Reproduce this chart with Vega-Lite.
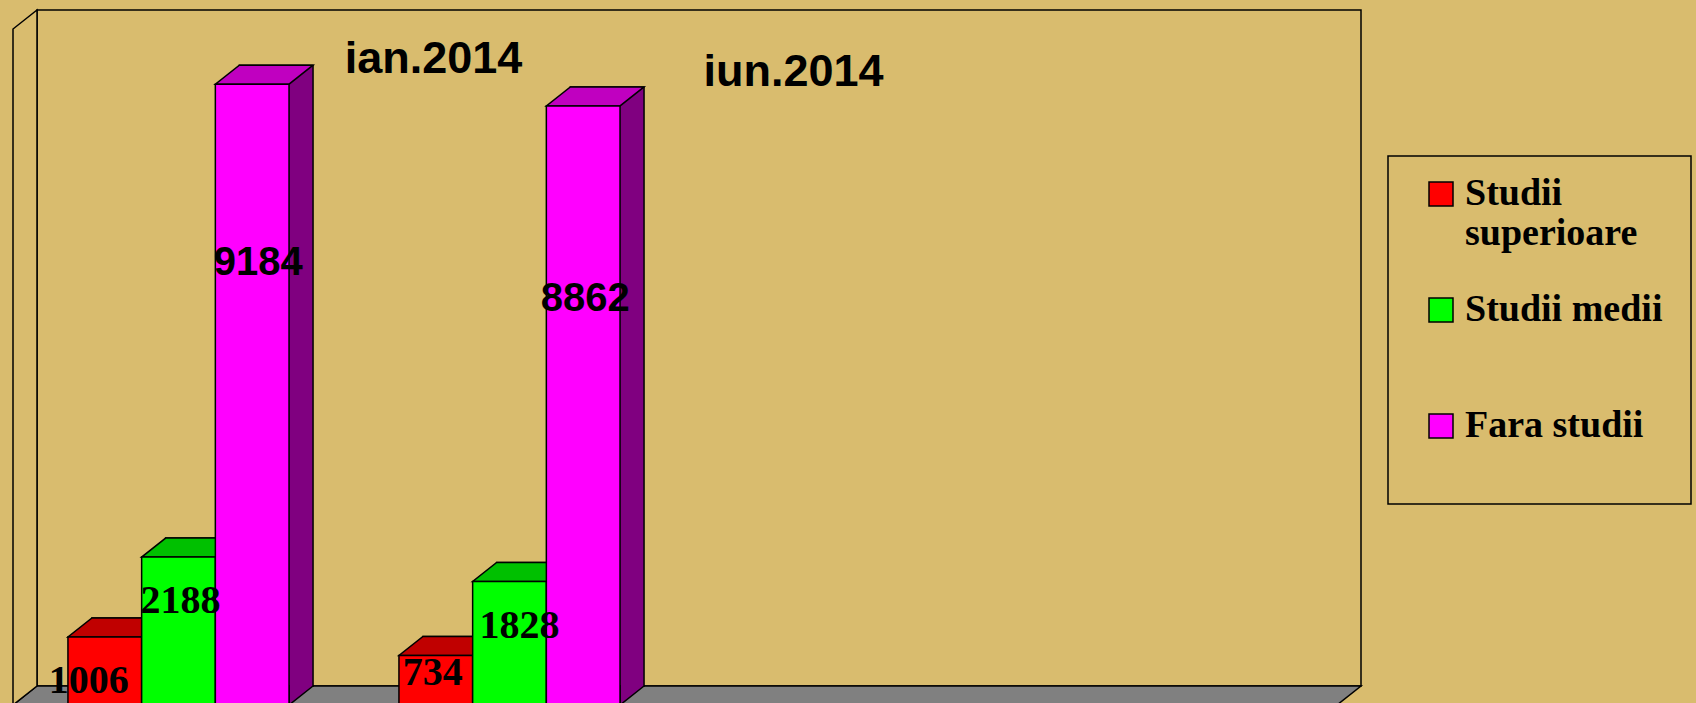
{
  "$schema": "https://vega.github.io/schema/vega-lite/v6.json",
  "width": 1324,
  "height": 676,
  "autosize": {"type": "none"},
  "padding": {"left": 37, "top": 10, "right": 335, "bottom": 17},
  "background": "#D9BC6E",
  "config": {"view": {"stroke": "black", "strokeWidth": 1.5}, "legend": {"strokeWidth": 1.5}},
  "data": {"values": [
    {"period": "ian.2014", "series": "Studii superioare", "value": 1006},
    {"period": "ian.2014", "series": "Studii medii", "value": 2188},
    {"period": "ian.2014", "series": "Fara studii", "value": 9184},
    {"period": "iun.2014", "series": "Studii superioare", "value": 734},
    {"period": "iun.2014", "series": "Studii medii", "value": 1828},
    {"period": "iun.2014", "series": "Fara studii", "value": 8862}
  ]},
  "resolve": {"scale": {"color": "independent", "xOffset": "independent"}},
  "layer": [
    {
      "data": {"values": [{}]},
      "mark": {"type": "point", "shape": "M -662 0 L 662 0 L 638 19 L -686 19 Z", "size": 4, "filled": true, "fill": "#808080", "stroke": "black", "strokeWidth": 1.5, "opacity": 1},
      "encoding": {"y": {"datum": 0, "type": "quantitative", "scale": {"domain": [0, 10000], "nice": false}, "axis": null}}
    },
    {
      "data": {"values": [{}]},
      "mark": {"type": "point", "shape": "M -686 19 L -686 -657 L -662 -676 L -662 0 Z", "size": 4, "filled": true, "fill": "#D9BC6E", "stroke": "black", "strokeWidth": 1.5, "opacity": 1},
      "encoding": {"y": {"datum": 0, "type": "quantitative", "scale": {"domain": [0, 10000], "nice": false}, "axis": null}}
    },
    {
      "mark": {"type": "bar", "stroke": "black", "strokeWidth": 1.5},
      "encoding": {
        "x": {"field": "period", "type": "nominal", "scale": {"domain": ["ian.2014", "iun.2014", "p3", "p4"], "paddingInner": 0.332, "paddingOuter": 0.166}, "axis": null},
        "xOffset": {"field": "series", "type": "nominal", "scale": {"type": "band", "domain": ["Studii superioare", "Studii medii", "Fara studii"], "range": [0, 221.1], "paddingInner": 0, "paddingOuter": 0}},
        "y": {"field": "value", "type": "quantitative", "scale": {"domain": [0, 10000], "nice": false}, "axis": null},
        "color": {"field": "series", "type": "nominal", "scale": {"domain": ["Studii superioare", "Studii medii", "Fara studii"], "range": ["#800000", "#008000", "#800080"]}, "legend": null}
      }
    },
    {
      "mark": {"type": "point", "shape": "M 36.85 -1 L 36.85 0 L 12.85 19 L 12.85 -1", "size": 4, "filled": true, "stroke": "black", "strokeWidth": 1.5, "opacity": 1},
      "encoding": {
        "x": {"field": "period", "type": "nominal"},
        "xOffset": {"field": "series", "type": "nominal", "scale": {"type": "band", "domain": ["Studii superioare", "Studii medii", "Fara studii"], "range": [0, 221.1], "paddingInner": 0, "paddingOuter": 0}},
        "y": {"datum": 0, "type": "quantitative"},
        "color": {"field": "series", "type": "nominal", "scale": {"domain": ["Studii superioare", "Studii medii", "Fara studii"], "range": ["#800000", "#008000", "#800080"]}, "legend": null}
      }
    },
    {
      "mark": {"type": "point", "shape": "M -36.85 0 L 36.85 0 L 12.85 19 L -60.85 19 Z", "size": 4, "filled": true, "stroke": "black", "strokeWidth": 1.5, "opacity": 1},
      "encoding": {
        "x": {"field": "period", "type": "nominal"},
        "xOffset": {"field": "series", "type": "nominal", "scale": {"type": "band", "domain": ["Studii superioare", "Studii medii", "Fara studii"], "range": [0, 221.1], "paddingInner": 0, "paddingOuter": 0}},
        "y": {"field": "value", "type": "quantitative"},
        "color": {"field": "series", "type": "nominal", "scale": {"domain": ["Studii superioare", "Studii medii", "Fara studii"], "range": ["#C00000", "#00C000", "#C000C0"]}, "legend": null}
      }
    },
    {
      "mark": {"type": "bar", "stroke": "black", "strokeWidth": 1.5, "yOffset": 19, "y2Offset": 19},
      "encoding": {
        "x": {"field": "period", "type": "nominal"},
        "xOffset": {"field": "series", "type": "nominal", "scale": {"type": "band", "domain": ["Studii superioare", "Studii medii", "Fara studii"], "range": [-24, 197.1], "paddingInner": 0, "paddingOuter": 0}},
        "y": {"field": "value", "type": "quantitative"},
        "color": {"field": "series", "type": "nominal", "scale": {"domain": ["Studii superioare", "Studii medii", "Fara studii"], "range": ["#FF0000", "#00FF00", "#FF00FF"]},
          "legend": {"orient": "none", "legendX": 1351, "legendY": 146, "title": " ", "titleOrient": "right", "titleFontSize": 2, "titlePadding": 10, "symbolType": "square", "symbolSize": 576, "symbolStrokeColor": "black", "symbolStrokeWidth": 1.5, "symbolOpacity": 1, "labelFont": "Liberation Serif", "labelFontWeight": "bold", "labelFontSize": 38, "labelColor": "black", "labelBaseline": "middle", "labelLimit": 400, "labelOffset": 5, "symbolOffset": 15, "padding": 19, "strokeColor": "black", "rowPadding": 38, "gridAlign": "all", "labelExpr": "datum.label == 'Studii superioare' ? ['Studii', 'superioare'] : datum.label == 'Fara studii' ? ['Fara studii', ' '] : datum.label"}}
      }
    },
    {
      "transform": [{"filter": "datum.value == 1006"}],
      "mark": {"type": "text", "font": "Liberation Serif", "fontWeight": "bold", "fontSize": 40, "color": "black", "align": "center", "baseline": "alphabetic", "dx": -40, "dy": 75},
      "encoding": {
        "x": {"field": "period", "type": "nominal"},
        "xOffset": {"field": "series", "type": "nominal", "scale": {"type": "band", "domain": ["Studii superioare", "Studii medii", "Fara studii"], "range": [0, 221.1], "paddingInner": 0, "paddingOuter": 0}},
        "y": {"field": "value", "type": "quantitative"},
        "text": {"field": "value", "type": "quantitative", "format": "d"}
      }
    },
    {
      "transform": [{"filter": "datum.value == 2188"}],
      "mark": {"type": "text", "font": "Liberation Serif", "fontWeight": "bold", "fontSize": 40, "color": "black", "align": "center", "baseline": "alphabetic", "dx": -22, "dy": 75},
      "encoding": {
        "x": {"field": "period", "type": "nominal"},
        "xOffset": {"field": "series", "type": "nominal", "scale": {"type": "band", "domain": ["Studii superioare", "Studii medii", "Fara studii"], "range": [0, 221.1], "paddingInner": 0, "paddingOuter": 0}},
        "y": {"field": "value", "type": "quantitative"},
        "text": {"field": "value", "type": "quantitative", "format": "d"}
      }
    },
    {
      "transform": [{"filter": "datum.value == 1828"}],
      "mark": {"type": "text", "font": "Liberation Serif", "fontWeight": "bold", "fontSize": 40, "color": "black", "align": "center", "baseline": "alphabetic", "dx": -14, "dy": 76},
      "encoding": {
        "x": {"field": "period", "type": "nominal"},
        "xOffset": {"field": "series", "type": "nominal", "scale": {"type": "band", "domain": ["Studii superioare", "Studii medii", "Fara studii"], "range": [0, 221.1], "paddingInner": 0, "paddingOuter": 0}},
        "y": {"field": "value", "type": "quantitative"},
        "text": {"field": "value", "type": "quantitative", "format": "d"}
      }
    },
    {
      "transform": [{"filter": "datum.value == 734"}],
      "mark": {"type": "text", "font": "Liberation Serif", "fontWeight": "bold", "fontSize": 40, "color": "black", "align": "center", "baseline": "alphabetic", "dx": -27, "dy": 49},
      "encoding": {
        "x": {"field": "period", "type": "nominal"},
        "xOffset": {"field": "series", "type": "nominal", "scale": {"type": "band", "domain": ["Studii superioare", "Studii medii", "Fara studii"], "range": [0, 221.1], "paddingInner": 0, "paddingOuter": 0}},
        "y": {"field": "value", "type": "quantitative"},
        "text": {"field": "value", "type": "quantitative", "format": "d"}
      }
    },
    {
      "transform": [{"filter": "datum.value == 9184"}],
      "mark": {"type": "text", "font": "Liberation Sans", "fontWeight": "bold", "fontSize": 40, "color": "black", "align": "center", "baseline": "alphabetic", "dx": -18, "dy": 210},
      "encoding": {
        "x": {"field": "period", "type": "nominal"},
        "xOffset": {"field": "series", "type": "nominal", "scale": {"type": "band", "domain": ["Studii superioare", "Studii medii", "Fara studii"], "range": [0, 221.1], "paddingInner": 0, "paddingOuter": 0}},
        "y": {"field": "value", "type": "quantitative"},
        "text": {"field": "value", "type": "quantitative", "format": "d"}
      }
    },
    {
      "transform": [{"filter": "datum.value == 8862"}],
      "mark": {"type": "text", "font": "Liberation Sans", "fontWeight": "bold", "fontSize": 40, "color": "black", "align": "center", "baseline": "alphabetic", "dx": -22, "dy": 224},
      "encoding": {
        "x": {"field": "period", "type": "nominal"},
        "xOffset": {"field": "series", "type": "nominal", "scale": {"type": "band", "domain": ["Studii superioare", "Studii medii", "Fara studii"], "range": [0, 221.1], "paddingInner": 0, "paddingOuter": 0}},
        "y": {"field": "value", "type": "quantitative"},
        "text": {"field": "value", "type": "quantitative", "format": "d"}
      }
    },
    {
      "data": {"values": [{}]},
      "mark": {"type": "text", "text": "ian.2014", "font": "Liberation Sans", "fontWeight": "bold", "fontSize": 45, "color": "black", "align": "center", "baseline": "alphabetic", "dx": 231, "dy": 63},
      "encoding": {"x": {"datum": "ian.2014", "type": "nominal"}, "y": {"datum": 10000, "type": "quantitative"}}
    },
    {
      "data": {"values": [{}]},
      "mark": {"type": "text", "text": "iun.2014", "font": "Liberation Sans", "fontWeight": "bold", "fontSize": 45, "color": "black", "align": "center", "baseline": "alphabetic", "dx": 260, "dy": 76},
      "encoding": {"x": {"datum": "iun.2014", "type": "nominal"}, "y": {"datum": 10000, "type": "quantitative"}}
    }
  ]
}
